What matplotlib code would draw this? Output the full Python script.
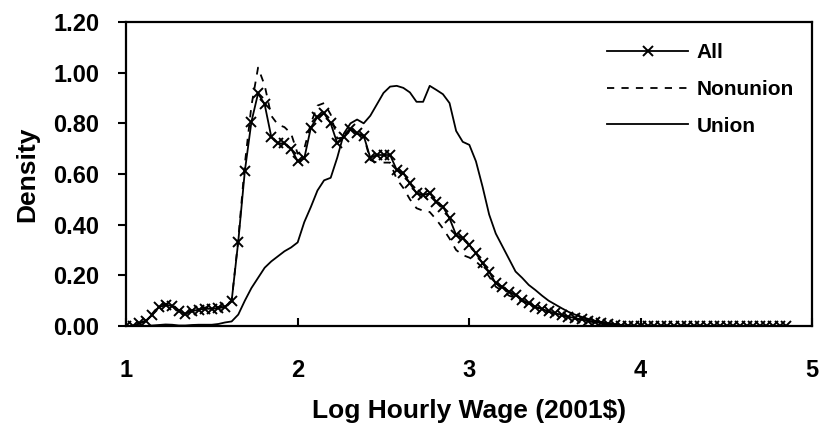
import numpy as np
import matplotlib
matplotlib.use('Agg')
from matplotlib import pyplot as plt

plt.rcParams['font.family'] = ['Liberation Sans', 'DejaVu Sans']
plt.rcParams['font.weight'] = 'bold'

# kernel density evaluated on an even grid of log wages
x_start = 1.0
x_step = 0.0385

all_density = [
    0.00, 0.00, 0.01, 0.02, 0.045, 0.075, 0.082, 0.08, 0.058, 0.048,
    0.058, 0.065, 0.068, 0.068, 0.07, 0.076, 0.099, 0.333, 0.612, 0.807,
    0.918, 0.875, 0.747, 0.721, 0.721, 0.70, 0.651, 0.662, 0.783, 0.826,
    0.839, 0.80, 0.721, 0.747, 0.778, 0.76, 0.751, 0.664, 0.675, 0.675,
    0.675, 0.616, 0.603, 0.563, 0.524, 0.517, 0.524, 0.491, 0.471, 0.425,
    0.359, 0.346, 0.32, 0.287, 0.247, 0.214, 0.168, 0.155, 0.136, 0.122,
    0.103, 0.089, 0.076, 0.067, 0.058, 0.05, 0.044, 0.037, 0.031, 0.026,
    0.021, 0.016, 0.011, 0.006, 0.003, 0.001, 0.0, 0.0, 0.0, 0.0,
    0.0, 0.0, 0.0, 0.0, 0.0, 0.0, 0.0, 0.0, 0.0, 0.0,
    0.0, 0.0, 0.0, 0.0, 0.0, 0.0, 0.0, 0.0, 0.0, 0.0,
    0.0,
]

nonunion_density = [
    0.00, 0.00, 0.01, 0.022, 0.05, 0.08, 0.088, 0.085, 0.062, 0.052,
    0.062, 0.07, 0.073, 0.073, 0.075, 0.08, 0.10, 0.34, 0.64, 0.87,
    1.02, 0.95, 0.83, 0.795, 0.785, 0.76, 0.68, 0.70, 0.80, 0.87,
    0.88, 0.835, 0.74, 0.745, 0.775, 0.76, 0.75, 0.655, 0.645, 0.645,
    0.645, 0.58, 0.545, 0.50, 0.465, 0.455, 0.45, 0.42, 0.385, 0.345,
    0.30, 0.28, 0.27, 0.255, 0.23, 0.195, 0.155, 0.138, 0.12, 0.11,
    0.098, 0.085, 0.075, 0.065, 0.056, 0.048, 0.042, 0.035, 0.029, 0.024,
    0.019, 0.014, 0.01, 0.005, 0.002, 0.001, 0.0, 0.0, 0.0, 0.0,
    0.0, 0.0, 0.0, 0.0, 0.0, 0.0, 0.0, 0.0, 0.0, 0.0,
    0.0, 0.0, 0.0, 0.0, 0.0, 0.0, 0.0, 0.0, 0.0, 0.0,
    0.0, 0.0, 0.0,
]

union_density = [
    0.0, 0.0, 0.0, 0.0, 0.002, 0.004, 0.006, 0.005, 0.002, 0.002,
    0.004, 0.005, 0.005, 0.005, 0.008, 0.014, 0.018, 0.045, 0.10, 0.15,
    0.19, 0.23, 0.255, 0.275, 0.295, 0.31, 0.33, 0.41, 0.47, 0.535,
    0.575, 0.585, 0.665, 0.76, 0.80, 0.815, 0.80, 0.83, 0.875, 0.92,
    0.945, 0.948, 0.94, 0.922, 0.885, 0.885, 0.948, 0.932, 0.915, 0.88,
    0.77, 0.727, 0.715, 0.65, 0.55, 0.44, 0.365, 0.315, 0.265, 0.215,
    0.19, 0.162, 0.142, 0.12, 0.10, 0.085, 0.07, 0.056, 0.045, 0.036,
    0.028, 0.021, 0.016, 0.011, 0.007, 0.004, 0.002, 0.0, 0.0, 0.0,
    0.0, 0.0, 0.0, 0.0, 0.0, 0.0, 0.0, 0.0, 0.0, 0.0,
    0.0, 0.0, 0.0, 0.0, 0.0, 0.0, 0.0, 0.0, 0.0, 0.0,
    0.0, 0.0, 0.0,
]

x_ticks = [1, 2, 3, 4, 5]
y_ticks = [0.0, 0.2, 0.4, 0.6, 0.8, 1.0, 1.2]


def grid(values):
    return x_start + x_step * np.arange(len(values))


fig = plt.figure(figsize=(8.19, 4.29), dpi=100)
ax = fig.add_axes([126 / 819, 1 - 326 / 429, 686 / 819, 304 / 429])

ax.plot(grid(all_density), all_density, color='black', lw=1.3,
        marker='x', ms=7, mew=1.4, label='All')
ax.plot(grid(nonunion_density), nonunion_density, color='black', lw=1.3,
        ls=(0, (4, 4)), label='Nonunion')
ax.plot(grid(union_density), union_density, color='black', lw=1.3, label='Union')

ax.set_xlim(1, 5)
ax.set_ylim(0, 1.2)
ax.set_xticks(x_ticks)
ax.set_yticks(y_ticks)
ax.set_yticklabels(['%.2f' % v for v in y_ticks])
ax.tick_params(axis='y', direction='out', length=6, width=1.5, labelsize=17, pad=13)
ax.tick_params(axis='x', direction='in', length=6, width=1.5, labelsize=17, pad=24)
for s in ax.spines.values():
    s.set_linewidth(1.6)

ax.set_xlabel('Log Hourly Wage (2001$)', fontsize=19, fontweight='bold', labelpad=12)
ax.set_ylabel('Density', fontsize=19, fontweight='bold', labelpad=10)

ax.legend(loc='upper left', bbox_to_anchor=(0.701, 0.93), frameon=False,
          handlelength=3.9, handletextpad=0.4, labelspacing=0.85,
          numpoints=1, borderpad=0, borderaxespad=0,
          prop={'weight': 'bold', 'size': 15})

fig.savefig('out.png', dpi=100)
